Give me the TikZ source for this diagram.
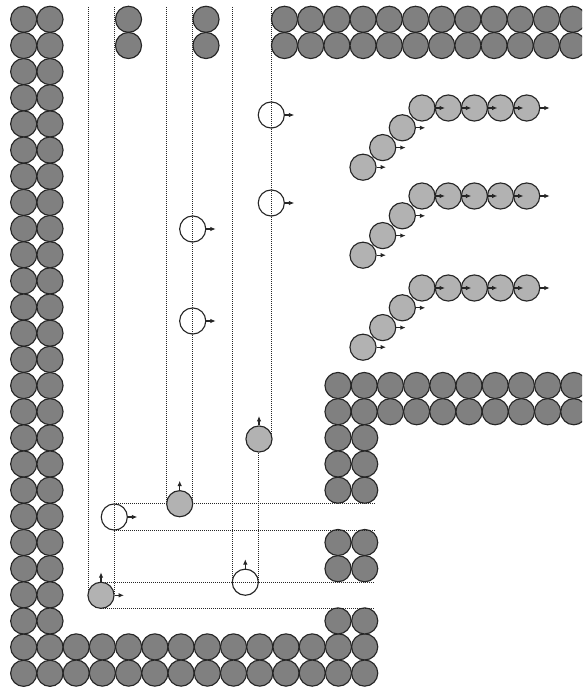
\documentclass[tikz,border=0pt]{standalone}
\usetikzlibrary{arrows.meta}
\tikzset{
  x=0.75pt,y=-0.75pt,
  wall/.style={circle,draw=black!85,line width=0.85pt,fill=black!50,minimum size=19.6pt,inner sep=0pt},
  mover/.style={circle,draw=black!85,line width=0.85pt,fill=black!30,minimum size=19.6pt,inner sep=0pt},
  empty/.style={circle,draw=black!85,line width=0.85pt,minimum size=19.6pt,inner sep=0pt},
  guide/.style={densely dotted,line width=0.5pt,black!85},
  vel/.style={-{Latex[length=4pt,width=3.4pt]},line width=0.8pt,black!85}
}
\begin{document}
\begin{tikzpicture}
\useasboundingbox (0,0) rectangle (582,692);
\clip (0,0) rectangle (582,692);
% wall nodes
\foreach \k in {0,...,25}{
  \pgfmathsetmacro\yy{19.3+26.16*\k}
  \node[wall] (la\k) at (23.7,\yy) {};
  \node[wall] (lb\k) at (50,\yy) {};
}
\foreach \c in {2,...,13}{
  \pgfmathsetmacro\xx{23.7+26.23*\c}
  \node[wall] (ba\c) at (\xx,646.9) {};
  \node[wall] (bb\c) at (\xx,673.1) {};
}
\foreach \xx/\n in {128.5/a,206/b}{
  \node[wall] (t\n1) at (\xx,19.3) {};
  \node[wall] (t\n2) at (\xx,45.5) {};
}
\foreach \c in {0,...,11}{
  \pgfmathsetmacro\xx{284.5+26.2*\c}
  \node[wall] (tr\c) at (\xx,19.3) {};
  \node[wall] (ts\c) at (\xx,45.5) {};
}
\foreach \c in {0,...,9}{
  \pgfmathsetmacro\xx{338+26.2*\c}
  \node[wall] (ra\c) at (\xx,385.5) {};
  \node[wall] (rb\c) at (\xx,411.7) {};
}
\foreach \yy/\n in {437.8/a,464/b,490.2/c,542.5/d,568.7/e,620.9/f}{
  \node[wall] (c1\n) at (338,\yy) {};
  \node[wall] (c2\n) at (364.7,\yy) {};
}
% guides
\coordinate (v1) at (88,7); \coordinate (v2) at (114.3,7);
\coordinate (v3) at (166.7,7); \coordinate (v4) at (192.7,7);
\coordinate (v5) at (232.3,7); \coordinate (v6) at (271.3,7);
\coordinate (e1) at (88,595); \coordinate (e2) at (114.3,595);
\coordinate (e3) at (166.7,504); \coordinate (e4) at (192.7,504);
\coordinate (e5) at (232.3,582); \coordinate (e6) at (271.3,439);
\coordinate (e7) at (258.3,439); \coordinate (e8) at (258.3,582);
\draw[guide] (v1)--(e1);
\draw[guide] (v2)--(e2);
\draw[guide] (v3)--(e3);
\draw[guide] (v4)--(e4);
\draw[guide] (v5)--(e5);
\draw[guide] (v6)--(e6);
\draw[guide] (e7)--(e8);
\coordinate (h1) at (114.3,503.7); \coordinate (i1) at (375,503.7);
\coordinate (h2) at (114.3,529.9); \coordinate (i2) at (375,529.9);
\coordinate (h3) at (101,582.2); \coordinate (i3) at (375,582.2);
\coordinate (h4) at (101,608.4); \coordinate (i4) at (375,608.4);
\draw[guide] (h1)--(i1);
\draw[guide] (h2)--(i2);
\draw[guide] (h3)--(i3);
\draw[guide] (h4)--(i4);
% chains
\foreach \d/\n in {0/a,88/b,180/c}{
  \foreach \xx/\yy/\m in {422/108/1,448.3/108/2,474.4/108/3,500.5/108/4,526.7/108/5,402.3/127.8/6,382.7/147.6/7,363/167.2/8}{
    \node[mover] (m\n\m) at (\xx,\yy+\d) {};
    \coordinate (q\n\m) at (\xx+23,\yy+\d);
  }
  \foreach \m in {1,...,8}{
    \draw[vel] (m\n\m.east)--(q\n\m);
  }
}
% individual particles
\node[empty] (p1) at (271.3,115) {};
\node[empty] (p2) at (271.3,203) {};
\node[empty] (p3) at (192.7,229) {};
\node[empty] (p4) at (192.7,321) {};
\node[empty] (p5) at (114.3,517) {};
\node[empty] (p6) at (245.3,582.2) {};
\node[mover] (p7) at (259,439) {};
\node[mover] (p8) at (179.7,503.7) {};
\node[mover] (p9) at (101,595.3) {};
\foreach \n/\xx/\yy in {p1/294.3/115,p2/294.3/203,p3/215.7/229,p4/215.7/321,p5/137.3/517,p9/124/595.3}{
  \coordinate (\n r) at (\xx,\yy);
  \draw[vel] (\n.east)--(\n r);
}
\foreach \n/\xx/\yy in {p6/245.3/559.2,p7/259/416,p8/179.7/480.7,p9/101/572.3}{
  \coordinate (\n u) at (\xx,\yy);
  \draw[vel] (\n.north)--(\n u);
}
\end{tikzpicture}
\end{document}
